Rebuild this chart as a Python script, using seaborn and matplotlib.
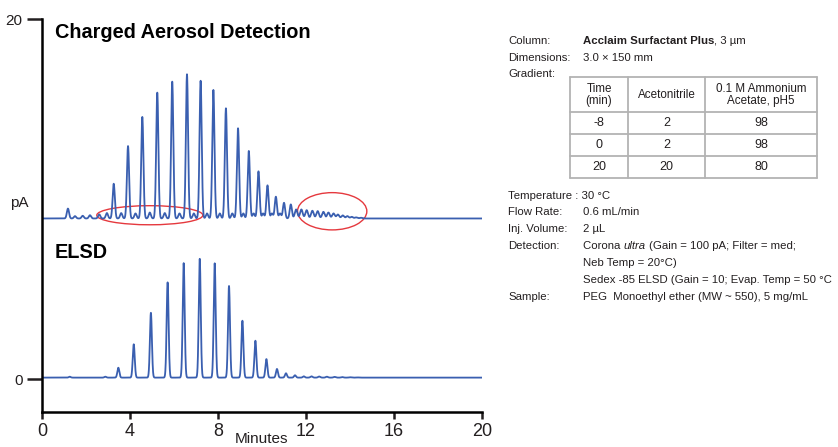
import matplotlib
matplotlib.use("Agg")
import matplotlib.pyplot as plt
import matplotlib.transforms as mtransforms
from matplotlib import font_manager
from matplotlib.patches import Ellipse
from matplotlib.lines import Line2D
import seaborn as sns
import numpy as np
import pandas as pd

# ---- peak tables (minutes, pA) ----
cad_baseline = 8.92
cad_peak_times = [1.18, 3.26, 3.91, 4.56, 5.24, 5.92, 6.59, 7.21, 7.79, 8.36, 8.91,
                  9.40, 9.84, 10.25, 10.63, 11.00, 11.31]
cad_peak_tops = [9.47, 10.85, 12.94, 14.56, 15.91, 16.52, 16.93, 16.57, 16.06, 15.04,
                 13.93, 12.67, 11.54, 10.76, 10.13, 9.79, 9.70]
cad_minor_times = [1.5, 1.85, 2.18, 2.6, 2.95, 3.6, 4.25, 4.9, 5.58, 6.25, 6.9, 7.5,
                   8.08, 8.65, 9.15, 9.62, 10.05, 10.45, 10.82]
cad_minor_tops = [9.05, 9.07, 9.1, 9.15, 9.22, 9.22, 9.2, 9.25, 9.22, 9.2, 9.2, 9.2,
                  9.2, 9.2, 9.2, 9.2, 9.2, 9.2, 9.2]
cad_ripple_times = [11.55, 11.79, 12.03, 12.29, 12.53, 12.79, 13.02, 13.25, 13.45,
                    13.67, 13.88, 14.08, 14.28, 14.5]
cad_ripple_tops = [9.42, 9.42, 9.38, 9.35, 9.33, 9.29, 9.25, 9.2, 9.14, 9.09, 9.05,
                   9.01, 8.98, 8.96]

elsd_baseline = 0.08
elsd_peak_times = [1.26, 2.88, 3.47, 4.17, 4.95, 5.71, 6.44, 7.17, 7.85, 8.50, 9.11,
                   9.70, 10.20, 10.68, 11.09, 11.50, 11.90]
elsd_peak_tops = [0.13, 0.13, 0.63, 1.93, 3.68, 5.37, 6.44, 6.68, 6.43, 5.17, 3.24,
                  2.13, 1.11, 0.56, 0.32, 0.21, 0.15]
elsd_ripple_times = [12.25, 12.6, 12.95, 13.3, 13.65, 14.0, 14.35]
elsd_ripple_tops = [0.15, 0.14, 0.13, 0.12, 0.11, 0.1, 0.09]

# gradient table
grad_header = ["Time\n(min)", "Acetonitrile", "0.1 M Ammonium\nAcetate, pH5"]
grad_time = ["-8", "0", "20"]
grad_acn = ["2", "2", "20"]
grad_buffer = ["98", "98", "80"]

x_ticks = [0, 4, 8, 12, 16, 20]
y_ticks = [0, 20]

LINE = "#3a5fb0"
RED = "#e5393e"
TXT = "#231f20"


def build_trace(t, base, groups):
    y = np.full_like(t, base)
    for times, tops, sig in groups:
        for tt, top in zip(times, tops):
            y += (top - base) * np.exp(-0.5 * ((t - tt) / sig) ** 2)
    return y


t = np.linspace(0, 20, 6001)
cad = build_trace(t, cad_baseline, [(cad_peak_times, cad_peak_tops, 0.05),
                                    (cad_minor_times, cad_minor_tops, 0.05),
                                    (cad_ripple_times, cad_ripple_tops, 0.06)])
elsd = build_trace(t, elsd_baseline, [(elsd_peak_times, elsd_peak_tops, 0.045),
                                      (elsd_ripple_times, elsd_ripple_tops, 0.05)])
df = pd.DataFrame({"Minutes": np.concatenate([t, t]),
                   "pA": np.concatenate([cad, elsd]),
                   "detector": ["CAD"] * len(t) + ["ELSD"] * len(t)})

sns.set_style("ticks")
names = {f.name for f in font_manager.fontManager.ttflist}
NARROW = "Liberation Sans Narrow" if "Liberation Sans Narrow" in names else "Liberation Sans"
plt.rcParams["font.family"] = [NARROW, "DejaVu Sans"]

fig = plt.figure(figsize=(8.38, 4.47), dpi=100)
W, H = 838, 447
ax = fig.add_axes([42 / W, 1 - 412 / H, 440 / W, 393 / H])

for det in ["CAD", "ELSD"]:
    sns.lineplot(data=df[df.detector == det], x="Minutes", y="pA", ax=ax,
                 color=LINE, lw=1.3, estimator=None)

ax.set_xlim(0, 20)
ax.set_ylim(-1.83, 20)
ax.set_xticks(x_ticks)
ax.set_yticks(y_ticks)
ax.set_xlabel("")
ax.set_ylabel("")
for s in ["top", "right"]:
    ax.spines[s].set_visible(False)
for s in ["left", "bottom"]:
    ax.spines[s].set_linewidth(1.8)
    ax.spines[s].set_color("black")
ax.tick_params(axis="y", length=11, width=1.8, pad=3, labelsize=11, colors=TXT)
ax.tick_params(axis="x", length=5, width=1.8, pad=3, labelsize=13, colors=TXT)

trans = mtransforms.blended_transform_factory(ax.transAxes, ax.transData)
ax.text(-0.03, 9.78, "pA", transform=trans, ha="right", va="center", fontsize=11, color=TXT)

# highlighted regions
ax.add_patch(Ellipse((4.9, 9.1), 4.82, 1.06, fill=False, ec=RED, lw=1.0, clip_on=False))
ax.add_patch(Ellipse((13.19, 9.32), 3.15, 2.07, fill=False, ec=RED, lw=1.0, clip_on=False))

fig.text(55 / W, 1 - 32 / H, "Charged Aerosol Detection", fontsize=14.3, weight="bold",
         va="center", color="black")
fig.text(55 / W, 1 - 252 / H, "ELSD", fontsize=14.3, weight="bold", va="center", color="black")
fig.text(261 / W, 1 - 432 / H, "Minutes", ha="center", va="top", fontsize=11, color=TXT)

renderer = fig.canvas.get_renderer()
FS = 8.2


def rich(x, y, parts, size=FS):
    xp = x
    for s, style in parts:
        style = dict(style)
        xp += style.pop("dx", 0)
        txt = fig.text(xp / W, 1 - y / H, s, fontsize=size, va="center", color=TXT, **style)
        xp += txt.get_window_extent(renderer).width


LX, VX = 508, 583
rich(LX, 41, [("Column:", {})])
rich(VX, 41, [("Acclaim Surfactant Plus", {"weight": "bold"}), (", 3 µm", {})])
rich(LX, 58, [("Dimensions:", {})])
rich(VX, 58, [("3.0 × 150 mm", {})])
rich(LX, 74, [("Gradient:", {})])

# gradient table
col_edges = [570, 628, 705, 817]
row_edges = [77, 112, 134, 156, 178]
GRID = "#b3b3b3"
for xe in col_edges:
    fig.add_artist(Line2D([xe / W] * 2, [1 - row_edges[0] / H, 1 - row_edges[-1] / H],
                          color=GRID, lw=1.3))
for ye in row_edges:
    fig.add_artist(Line2D([col_edges[0] / W, col_edges[-1] / W], [1 - ye / H] * 2,
                          color=GRID, lw=1.3))
centers = [(col_edges[i] + col_edges[i + 1]) / 2 for i in range(3)]
for cx, lab in zip(centers, grad_header):
    fig.text(cx / W, 1 - 95 / H, lab, ha="center", va="center", fontsize=8.4,
             color=TXT, linespacing=1.1)
rows = list(zip(grad_time, grad_acn, grad_buffer))
for i, row in enumerate(rows):
    cy = (row_edges[i + 1] + row_edges[i + 2]) / 2
    for cx, val in zip(centers, row):
        fig.text(cx / W, 1 - cy / H, val, ha="center", va="center", fontsize=9, color=TXT)

rich(LX, 196, [("Temperature : 30 °C", {})])
rich(LX, 212, [("Flow Rate:", {})])
rich(VX, 212, [("0.6 mL/min", {})])
rich(LX, 229, [("Inj. Volume:", {})])
rich(VX, 229, [("2 µL", {})])
rich(LX, 246, [("Detection:", {})])
rich(VX, 246, [("Corona ", {}), ("ultra", {"style": "italic"}),
               ("(Gain = 100 pA; Filter = med;", {"dx": 3})])
rich(VX, 263, [("Neb Temp = 20°C)", {})])
rich(VX, 280, [("Sedex -85 ELSD (Gain = 10; Evap. Temp = 50 °C", {})])
rich(LX, 297, [("Sample:", {})])
rich(VX, 297, [("PEG  Monoethyl ether (MW ~ 550), 5 mg/mL", {})])

fig.savefig("out.png", dpi=100)
